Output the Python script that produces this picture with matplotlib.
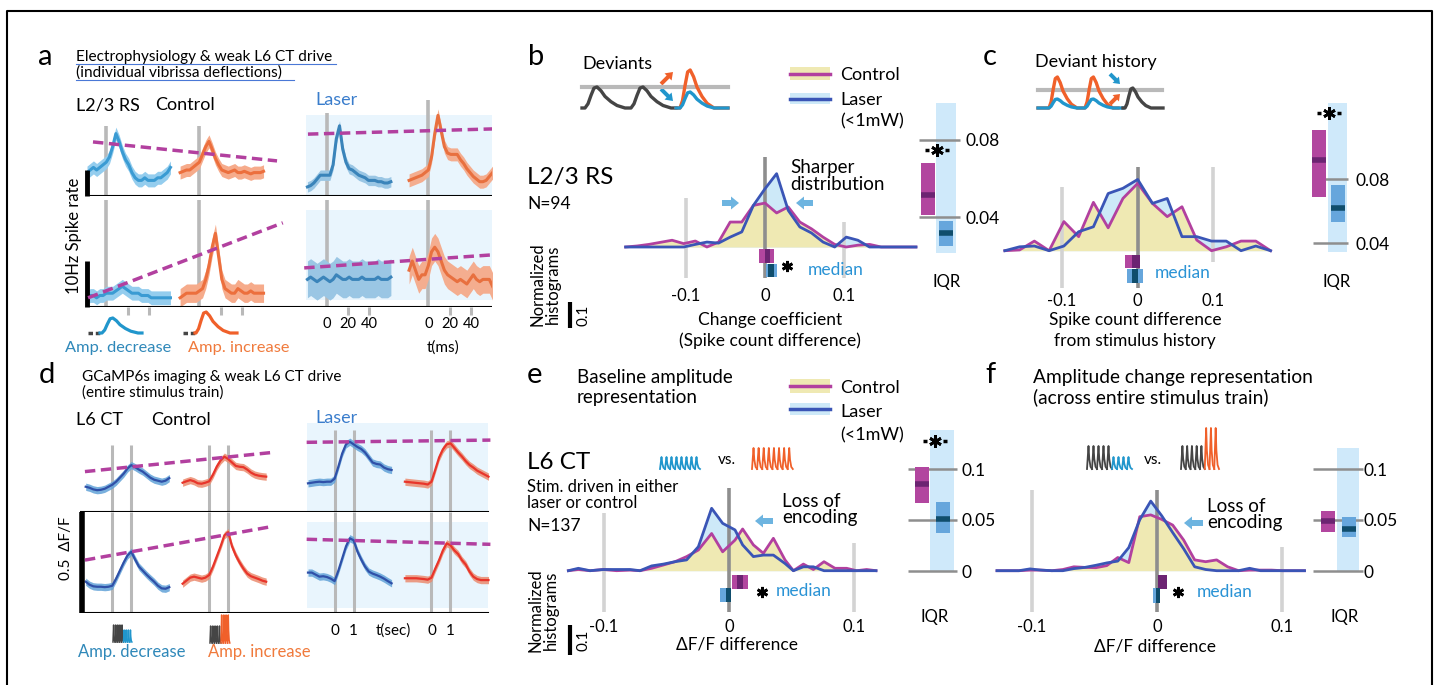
import numpy as np
import matplotlib
matplotlib.use("Agg")
import matplotlib.pyplot as plt
from matplotlib.patches import Rectangle

plt.rcParams['font.family'] = ['Lato', 'DejaVu Sans']

W, H = 1436, 685

# ---------------- panel a : PSTH (Hz), one value every 3 ms ----------------
t_a = np.arange(-18, 61, 3)
a_top_ctrl_dec = [9, 10, 11, 10, 11, 12, 13, 15, 19, 24, 21, 17, 14, 12, 9, 7, 6, 6, 7, 6, 6, 6, 7, 7, 8, 9, 11]
a_top_ctrl_inc = [9, 9.5, 10, 10, 11, 12, 13, 16, 19, 21, 18, 14.5, 12, 10, 9.5, 9, 9.5, 10, 9, 9, 9.5, 9, 8.5, 9, 9, 9, 9.5]
a_top_laser_dec = [3.5, 4, 5, 6.5, 8, 8, 8, 8, 12, 22, 27, 18, 13, 10.5, 10, 9, 8, 7.5, 7, 6, 6, 6, 5.5, 5.5, 5, 5, 5.5]
a_top_laser_inc = [6, 6.5, 7, 7.5, 8, 9, 10, 15, 24, 31, 25, 19, 16.5, 16, 16, 16, 14, 12.5, 10.5, 9, 7.5, 6.5, 5.5, 5.5, 6, 7.5, 9]
a_bot_ctrl_dec = [2, 2.5, 2.5, 2, 2.5, 2.5, 3, 3, 3, 3.5, 4, 4.5, 4, 3.5, 3, 3, 3, 2.5, 2.5, 2.5, 2, 2, 2, 2, 2, 2, 2]
a_bot_ctrl_inc = [2, 2.5, 3, 3, 3, 3, 3.5, 4, 6, 9, 13, 16, 11, 6, 4, 3.5, 3, 3, 4, 3.5, 3, 3, 3.5, 3, 3, 3, 3]
a_bot_laser_dec = [6, 6.5, 6, 5.5, 6, 6.5, 6, 5.5, 6, 7, 6.5, 6, 6, 6.5, 6, 6, 6, 6.5, 6, 6, 6, 6, 6.5, 6, 6, 6, 6.5]
a_bot_laser_inc = [8, 10, 8, 6, 7, 7, 9, 12, 13, 12, 10, 8, 7, 6.5, 6, 5.5, 6, 5.5, 5, 6, 7, 6, 5.5, 6, 6, 6, 4.5]
a_sem_top = [2.5, 2.5, 2.0, 2.5]
a_sem_bot = [1.5, 2.0, 4.0, 3.0]
# dashed trend lines (x in ms along the row, y in Hz)
a_trend_top_ctrl = ([5.6, 177.6], [20.8, 13.5])
a_trend_top_laser = ([206.5, 379], [23.8, 25.8])
a_trend_bot_ctrl = ([1, 183], [2.0, 18.3])
a_trend_bot_laser = ([203, 376.6], [8.5, 11.3])
a_ticks = [0, 20, 40]

# ---------------- panel d : dF/F, one value every 0.2 s ----------------
t_d = np.round(np.arange(-1.4, 3.01, 0.2), 1)
d_top_ctrl_dec = [.125, .12, .112, .108, .11, .115, .125, .135, .15, .17, .19, .215, .232, .222, .21, .2, .185, .17, .16, .155, .15, .155, .168]
d_top_ctrl_inc = [.145, .152, .158, .152, .142, .14, .145, .152, .185, .225, .255, .274, .262, .245, .228, .224, .222, .21, .195, .185, .18, .177, .175]
d_top_laser_dec = [.142, .145, .148, .15, .148, .15, .15, .165, .225, .29, .335, .348, .335, .322, .312, .295, .27, .245, .238, .235, .22, .212, .208]
d_top_laser_inc = [.15, .148, .146, .144, .142, .14, .136, .15, .21, .27, .31, .335, .34, .318, .295, .275, .252, .233, .22, .205, .195, .185, .175]
d_bot_ctrl_dec = [.155, .14, .132, .13, .13, .128, .13, .135, .17, .21, .25, .285, .303, .265, .23, .21, .19, .172, .155, .135, .122, .12, .128]
d_bot_ctrl_inc = [.145, .16, .175, .18, .175, .17, .175, .188, .23, .28, .33, .385, .4, .33, .285, .25, .22, .195, .182, .175, .168, .16, .155]
d_bot_laser_dec = [.2, .2, .19, .18, .182, .178, .17, .158, .21, .27, .33, .37, .36, .305, .265, .23, .205, .195, .188, .18, .17, .158, .147]
d_bot_laser_inc = [.172, .172, .172, .172, .17, .168, .165, .175, .22, .262, .31, .345, .335, .31, .292, .262, .24, .205, .18, .168, .163, .163, .163]
d_sem = 0.018
d_trend_top_ctrl = ([0.26, 10.04], [0.20, 0.294])
d_trend_top_laser = ([11.93, 21.6], [0.345, 0.356])
d_trend_bot_ctrl = ([0.26, 10.04], [0.262, 0.427])
d_trend_bot_laser = ([11.93, 21.6], [0.365, 0.34])
d_ticks = [0, 1]

# ---------------- histograms b, c, e, f ----------------
b_bins = np.arange(-12, 14) * 0.0147
b_ctrl = [0, .004, .010, .018, .026, .013, .023, 0, .019, .096, .096, .160, .169, .131, .154, .096, .070, .038, .010, 0, .007, .010, 0, 0, 0, 0]
b_laser = [0, 0, 0, 0, 0, 0, .010, .019, .015, .038, .058, .160, .224, .282, .141, .077, .054, .019, 0, .038, .026, 0, 0, 0, 0, 0]

c_bins = np.arange(-9, 10) * 0.0195
c_ctrl = [0, .003, .037, 0, .112, .054, .186, .088, .201, .259, .182, .131, .169, .041, 0, .015, .037, .037, 0]
c_laser = [0, .015, .018, 0, .018, .073, .092, .220, .240, .274, .182, .201, .054, .054, .037, .037, 0, .018, 0]

e_bins = [-0.1285, -0.1205, -0.1112, -0.1005, -0.0899, -0.0792, -0.0712, -0.0619, -0.0525, -0.0432,
          -0.0339, -0.0245, -0.0139, -0.0051, 0.0048, 0.0109, 0.0195, 0.0275, 0.0355, 0.0448,
          0.0515, 0.0595, 0.0675, 0.0760, 0.0848, 0.0941, 0.1021, 0.1101, 0.1176]
e_ctrl = [0, .004, 0, .004, 0, .002, 0, .008, .019, .030, .047, .069, .124, .063, .102, .139, .086, .058, .108, .036, 0, .022, .004, .030, .008, .008, 0, .004, 0]
e_laser = [0, .008, 0, .004, .004, .004, 0, .016, .022, .030, .036, .080, .208, .158, .136, .086, .047, .052, .052, .024, 0, .013, .013, 0, 0, 0, 0, 0, 0]

f_bins = np.linspace(-0.128, 0.118, 29)
f_ctrl = [0, 0, 0, .002, .002, 0, .004, .013, .011, .010, .017, .044, .027, .180, .186, .171, .152, .102, .036, .030, .036, .013, 0, .002, .002, .002, 0, 0, 0]
f_laser = [0, 0, 0, .006, .002, 0, 0, .007, .011, .018, .026, .032, .077, .170, .232, .183, .127, .073, .013, .004, 0, 0, 0, .008, 0, 0, 0, 0, 0]

hist_ticks = [-0.1, 0, 0.1]
hist_tick_labels = ['-0.1', '0', '0.1']

# median boxes: (ci low, dark low, dark high, ci high)
b_med = [(-0.0072, 0.0, 0.0063, 0.0114), (0.0013, 0.0042, 0.0114, 0.0148)]
c_med = [(-0.0168, -0.008, 0.003, 0.003), (-0.014, -0.008, 0.001, 0.007)]
e_med = [(0.0024, 0.0064, 0.0112, 0.0152), (-0.0072, -0.0024, 0.0016, 0.0016)]
f_med = [(0.0006, 0.0006, 0.0078, 0.0078), (-0.0034, -0.0008, 0.0024, 0.0024)]

# IQR boxes: (q low, median, q high) for control, laser
b_iqr = [(0.041, 0.0514, 0.068), (0.0249, 0.0317, 0.0379)]
c_iqr = [(0.0688, 0.0919, 0.1106), (0.0531, 0.0619, 0.0763)]
e_iqr = [(0.0667, 0.0853, 0.102), (0.0373, 0.051, 0.0676)]
f_iqr = [(0.0382, 0.049, 0.0588), (0.0333, 0.0412, 0.0529)]
iqr_ticks_bc = [0.04, 0.08]
iqr_labels_bc = ['0.04', '0.08']
iqr_ticks_ef = [0, 0.05, 0.1]
iqr_labels_ef = ['0', '0.05', '0.1']

# ---------------- icon shapes ----------------
bump_x = [0, 0.15, 0.3, 0.45, 0.6, 0.8, 1.0, 1.3, 1.6, 2.0]
bump_y = [0, 0.2, 0.6, 0.95, 1.0, 0.82, 0.55, 0.3, 0.12, 0]
pulse_x = [0, 0.3, 0.45, 0.7, 1.0]
pulse_y = [0, 1.0, 0.45, 0.1, 0]
e_train_dec = [12, 12, 12, 12, 12, 12, 12, 12]
e_train_inc = [21, 21, 21, 21, 21, 21, 21, 21]
f_train_dec = [23, 23, 23, 23, 23, 12, 12, 12, 12]
f_train_inc = [23, 23, 23, 23, 23, 41, 41, 41]
d_train_dec = [17, 17, 17, 17, 17, 12, 12, 12, 12]
d_train_inc = [17, 17, 17, 17, 17, 28, 28, 28, 28]

# ---------------- colours ----------------
MAG = "#b2409f"
BLUE = "#3a55b6"
YEL = "#efe9b3"
LBLUE = "#cde9f8"
SHADE = "#e9f5fd"
STIM = "#b9b9b9"
ZERO = "#8e8e8e"
GUIDE = "#d3d3d3"
MAGB, MAGD = "#b2469f", "#6c2472"
BLUB, BLUD = "#66a6dc", "#0f4d6c"
IQRCOL = "#cfe9fa"
TEAL = "#2f88b9"
ORTXT = "#f07a3c"
LASERTXT = "#3a7dcc"
MEDTXT = "#2a93d5"
ARROW = "#6db4e0"
ICON_BLUE = "#2196cc"
ICON_OR = "#f0602a"
ICON_DARK = "#454545"

fig = plt.figure(figsize=(W / 100, H / 100), dpi=100)


def add_ax(l, t, r, b):
    ax = fig.add_axes([l / W, 1 - b / H, (r - l) / W, (b - t) / H])
    ax.axis('off')
    return ax


def row_ax(l, t, r, b, xs, ys):
    ax = add_ax(l, t, r, b)
    ax.set_xlim(0, (r - l) / xs)
    ax.set_ylim(0, (b - t) / ys)
    return ax


# overlay in pixel units for text and schematics
ov = fig.add_axes([0, 0, 1, 1])
ov.set_xlim(0, W)
ov.set_ylim(H, 0)
ov.axis('off')
ov.set_zorder(10)
ov.patch.set_visible(False)


def T(x, y, s, size=12.5, color='black', ha='left', va='baseline', **kw):
    ov.text(x, y, s, fontsize=size, color=color, ha=ha, va=va, **kw)


def icon_line(x0, x1, base, bumps):
    xs, ys = [x0], [base]
    for s, u, h in bumps:
        xs += [s + u * v for v in bump_x]
        ys += [base - h * v for v in bump_y]
    xs.append(x1)
    ys.append(base)
    return xs, ys


def train(x0, sp, amps, n_std, color, base, lw=1.3):
    for i, a in enumerate(amps):
        xs = [x0 + sp * (i + v) for v in pulse_x]
        ys = [base - a * v for v in pulse_y]
        ov.plot(xs, ys, color=ICON_DARK if i < n_std else color, lw=lw)


def fat_arrow(x, y, dx, dy, color, w=6, hw=13, hl=8):
    ov.arrow(x, y, dx, dy, width=w, head_width=hw, head_length=hl,
             length_includes_head=True, color=color, lw=0)


def star(x, y, ms=8):
    ov.plot(x, y, marker=(6, 2, 0), ms=ms, mew=2.0, color='black')


def sig_bar(x, y):
    ov.plot([x - 12, x - 8], [y, y], color='black', lw=2.5, solid_capstyle='butt')
    ov.plot([x + 8, x + 12], [y, y], color='black', lw=2.5, solid_capstyle='butt')
    star(x, y, 9)


# frame
ov.plot([7, 7, 1432, 1432], [700, 11, 11, 700], color='black', lw=1.5, clip_on=False)

# ======================= panel a =======================
a_off = [18, 105, 224, 319]
a_lines = ["#3a9bd3", "#ec6f3d", "#3a84ba", "#e8703f"]
a_bands = ["#94cdee", "#f6ab8b", "#9ac6e4", "#f4ad8f"]
ax_at = row_ax(87, 100, 492, 196, 1.07, 2.6)
ax_ab = row_ax(87, 200, 492, 307, 1.07, 4.6)
rows = [
    (ax_at, [a_top_ctrl_dec, a_top_ctrl_inc, a_top_laser_dec, a_top_laser_inc], a_sem_top,
     (0, 31), [27, 27, 32, 37], [a_trend_top_ctrl, a_trend_top_laser]),
    (ax_ab, [a_bot_ctrl_dec, a_bot_ctrl_inc, a_bot_laser_dec, a_bot_laser_inc], a_sem_bot,
     (1.5, 21), [23.3] * 4, [a_trend_bot_ctrl, a_trend_bot_laser]),
]
for ax, traces, sems, sh, stim_top, trends in rows:
    ax.add_patch(Rectangle((205, sh[0]), 174, sh[1] - sh[0], color=SHADE, lw=0, zorder=0))
    for off, top in zip(a_off, stim_top):
        ax.plot([off, off], [0, top], color=STIM, lw=2.6, zorder=1, solid_capstyle='butt')
    for off, v, s, lc, bc in zip(a_off, traces, sems, a_lines, a_bands):
        v = np.array(v)
        ax.fill_between(off + t_a, v - s, v + s, color=bc, lw=0, zorder=2)
        ax.plot(off + t_a, v, color=lc, lw=2.2, zorder=3)
    ax.axhline(0, color='black', lw=1.5, zorder=4)
    ax.plot([0.4, 0.4], [0, 10], color='black', lw=3.5, solid_capstyle='butt', clip_on=False, zorder=5)
    for tx, ty in trends:
        ax.plot(tx, ty, color=MAG, lw=2.5, ls=(0, (3, 1.6)), zorder=6)
for i, off in enumerate(a_off):
    for tk in a_ticks[1:]:
        ax_ab.plot([off + tk] * 2, [0, -1.8], color=STIM, lw=2.2, clip_on=False, solid_capstyle='butt')
    if i >= 2:
        for tk in a_ticks:
            ax_ab.text(off + tk, -21 / 4.6, str(tk), ha='center', va='baseline', fontsize=10.5)

T(38, 65, 'a', 21)
T(76, 61, 'Electrophysiology & weak L6 CT drive', 11.1)
T(76, 77, '(individual vibrissa deflections)', 11.1)
ov.plot([76, 336], [63.5, 63.5], color="#4a78d6", lw=0.8)
ov.plot([76, 294], [79.5, 79.5], color="#4a78d6", lw=0.8)
T(76, 110, 'L2/3 RS', 13)
T(155, 110, 'Control', 13)
T(315, 105, 'Laser', 13, color=LASERTXT)
T(74, 236, '10Hz Spike rate', 12, ha='center', va='center', rotation=90)
T(443, 352, 't(ms)', 11, ha='center')
T(65, 352, 'Amp. decrease', 11.8, color=TEAL)
T(188, 352, 'Amp. increase', 11.8, color=ORTXT)
ov.plot([88, 100], [333, 333], color=ICON_DARK, lw=2.5, ls=(0, (1.3, 0.8)))
ov.plot(*icon_line(100, 142, 333, [(102, 18, 15)]), color=ICON_BLUE, lw=2.3)
ov.plot([183, 195], [333, 333], color=ICON_DARK, lw=2.5, ls=(0, (1.3, 0.8)))
ov.plot(*icon_line(195, 237, 333, [(196, 17, 21)]), color=ICON_OR, lw=2.3)

# ======================= panel d =======================
d_off = [1.7, 6.8, 13.4, 18.5]
d_lines = ["#2f50a8", "#e8352b", "#2f50a8", "#e8352b"]
d_bands = ["#62a2d8", "#eb8c70", "#62a2d8", "#eb8c70"]
ax_dt = row_ax(80, 420, 492, 512, 19, 202)
ax_db = row_ax(80, 512, 492, 613, 19, 202)
drows = [
    (ax_dt, [d_top_ctrl_dec, d_top_ctrl_inc, d_top_laser_dec, d_top_laser_inc],
     (0, 0.44), [0.33, 0.33, 0.405, 0.405], [d_trend_top_ctrl, d_trend_top_laser]),
    (ax_db, [d_bot_ctrl_dec, d_bot_ctrl_inc, d_bot_laser_dec, d_bot_laser_inc],
     (0.025, 0.45), [0.5] * 4, [d_trend_bot_ctrl, d_trend_bot_laser]),
]
for ax, traces, sh, stim_top, trends in drows:
    ax.add_patch(Rectangle((11.95, sh[0]), 9.52, sh[1] - sh[0], color=SHADE, lw=0, zorder=0))
    for off, top in zip(d_off, stim_top):
        for tk in d_ticks:
            ax.plot([off + tk] * 2, [0, top], color=STIM, lw=2.2, zorder=1, solid_capstyle='butt')
    for off, v, lc, bc in zip(d_off, traces, d_lines, d_bands):
        v = np.array(v)
        ax.fill_between(off + t_d, v - d_sem, v + d_sem, color=bc, lw=0, zorder=2, alpha=0.85)
        ax.plot(off + t_d, v, color=lc, lw=1.6, zorder=3)
    ax.axhline(0, xmin=0, xmax=408 / 412, color='black', lw=1.5, zorder=4)
    for tx, ty in trends:
        ax.plot(tx, ty, color=MAG, lw=2.5, ls=(0, (3, 1.6)), zorder=6)
ax_db.plot([0.1, 0.1], [0, 0.5], color='black', lw=4, solid_capstyle='butt', clip_on=False, zorder=5)
for off in d_off[2:]:
    for tk in d_ticks:
        ax_db.text(off + tk, -22 / 202, str(tk), ha='center', va='baseline', fontsize=11)

T(39, 383, 'd', 21)
T(82, 381, 'GCaMP6s imaging & weak L6 CT drive', 11)
T(82, 397, '(entire stimulus train)', 11)
T(76, 425, 'L6 CT', 13)
T(151, 425, 'Control', 13)
T(315, 423, 'Laser', 13, color=LASERTXT)
T(66, 548, '0.5  ΔF/F', 11, ha='center', va='center', rotation=90)
T(393, 635, 't(sec)', 11, ha='center')
T(78, 657, 'Amp. decrease', 12, color=TEAL)
T(208, 657, 'Amp. increase', 12, color=ORTXT)
train(113, 2.1, d_train_dec, 5, ICON_BLUE, 642, lw=1.1)
train(210, 2.2, d_train_inc, 5, ICON_OR, 643, lw=1.1)


# ======================= histogram panels =======================
def hist_panel(box, x0, xs, y0, ys, bins, ctrl, laser, vl, meds, med_rows, tick_y):
    l, t, r, b = box
    ax = add_ax(l, t, r, b)
    ax.set_xlim((l - x0) / xs, (r - x0) / xs)
    ax.set_ylim((y0 - b) / ys, (y0 - t) / ys)
    X = lambda p: (p - x0) / xs
    Y = lambda p: (y0 - p) / ys
    for xv, (ptop, pbot) in zip(hist_ticks, vl):
        ax.plot([xv, xv], [Y(pbot), Y(ptop)], color=ZERO if xv == 0 else GUIDE,
                lw=2.6, zorder=2, solid_capstyle='butt', clip_on=False)
    ax.fill_between(bins, 0, laser, color=LBLUE, lw=0, zorder=1)
    ax.fill_between(bins, 0, ctrl, color=YEL, lw=0, zorder=1)
    ax.plot(bins, ctrl, color=MAG, lw=2, zorder=3)
    ax.plot(bins, laser, color=BLUE, lw=2, zorder=3)
    for (lo, dlo, dhi, hi), (pt, pb), (lc, dc) in zip(meds, med_rows, [(MAGB, MAGD), (BLUB, BLUD)]):
        ax.add_patch(Rectangle((lo, Y(pb)), hi - lo, Y(pt) - Y(pb), color=lc, lw=0, zorder=4, clip_on=False))
        ax.add_patch(Rectangle((dlo, Y(pb)), dhi - dlo, Y(pt) - Y(pb), color=dc, lw=0, zorder=5, clip_on=False))
    for xv, lab in zip(hist_ticks, hist_tick_labels):
        ax.text(xv, Y(tick_y), lab, ha='center', va='baseline', fontsize=12)
    return ax, X, Y


def iqr_panel(box, cx, sp, ref_px, ref_val, scale, col, gl, lab_px, ticks, labels, boxes):
    l, t, r, b = box
    ax = add_ax(l, t, r, b)
    ax.set_xlim((l - cx) / sp, (r - cx) / sp)
    ax.set_ylim(ref_val - (b - ref_px) / scale, ref_val + (ref_px - t) / scale)
    X = lambda p: (p - cx) / sp
    Y = lambda p: ref_val + (ref_px - p) / scale
    ax.add_patch(Rectangle((X(col[0]), Y(col[3])), X(col[1]) - X(col[0]), Y(col[2]) - Y(col[3]),
                           color=IQRCOL, lw=0, zorder=0))
    ax.hlines(ticks, X(gl[0]), X(gl[1]), color="#8e8e8e", lw=1.8, zorder=1)
    bw = 14 / sp
    for i, (q, lc, dc) in enumerate(zip(boxes, [MAGB, BLUB], [MAGD, BLUD])):
        ax.bar(i, q[2] - q[0], bottom=q[0], width=bw, color=lc, lw=0, zorder=2)
        ax.plot([i - bw / 2, i + bw / 2], [q[1], q[1]], color=dc, lw=4, solid_capstyle='butt', zorder=3)
    for tk, lb in zip(ticks, labels):
        ax.text(X(lab_px), tk, lb, ha='left', va='center_baseline', fontsize=12.5)
    return ax


# ---- b
axb, Xb, Yb = hist_panel((610, 150, 920, 290), 765, 790, 247, 260, b_bins, b_ctrl, b_laser,
                         [(198, 278), (157, 278), (222, 278)], b_med, [(249, 263), (264, 277)], 301)
axb.plot([Xb(570)] * 2, [Yb(328), Yb(328) + 0.1], color='black', lw=3, clip_on=False, solid_capstyle='butt')
iqr_panel((915, 100, 962, 256), 928, 17.5, 140, 0.08, 1925, (936, 956, 103, 253), (919, 960), 966,
          iqr_ticks_bc, iqr_labels_bc, b_iqr)
T(528, 65, 'b', 21)
T(582, 69, 'Deviants', 13)
ov.plot([582, 728], [87, 87], color=STIM, lw=3)
ov.plot(*icon_line(582, 676, 108, [(585, 20, 21), (631, 20, 21)]), color=ICON_DARK, lw=2.4)
ov.plot(*icon_line(676, 728, 108, [(680, 17, 38)]), color=ICON_OR, lw=2.4)
ov.plot(*icon_line(676, 728, 108, [(680, 17, 16)]), color=ICON_BLUE, lw=2.4)
fat_arrow(661, 84, 12, -12, ICON_OR, w=4, hw=10, hl=7)
fat_arrow(661, 89, 12, 12, ICON_BLUE, w=4, hw=10, hl=7)
for y_top, h, fc, lc in [(67, 13, YEL, MAG), (93, 11, LBLUE, BLUE)]:
    ov.add_patch(Rectangle((790, y_top), 40, h, color=fc, lw=0))
    ov.plot([790, 830], [y_top + h / 2] * 2, color=lc, lw=2.5)
T(840, 80, 'Control', 13)
T(840, 105, 'Laser', 13)
T(840, 126, '(<1mW)', 13)
T(527, 184, 'L2/3 RS', 17.5)
T(527, 209, 'N=94', 12.5)
T(790, 173, 'Sharper', 13.5)
T(790, 190, 'distribution', 13.5)
fat_arrow(722, 203, 17, 0, ARROW)
fat_arrow(813, 203, -17, 0, ARROW)
T(770, 325, 'Change coefficient', 12.5, ha='center')
T(770, 346, '(Spike count difference)', 12.5, ha='center')
T(808, 275, 'median', 12.5, color=MEDTXT)
star(787, 266)
sig_bar(937, 150)
T(947, 287, 'IQR', 12, ha='center')
T(545, 284, 'Normalized\nhistograms', 12, ha='center', va='center', rotation=90, linespacing=0.95)
T(583, 315, '0.1', 11, ha='center', va='center', rotation=90)

# ---- c
hist_panel((995, 150, 1280, 295), 1137.7, 757, 250.7, 260, c_bins, c_ctrl, c_laser,
           [(187, 288), (167, 288), (167, 262)], c_med, [(255, 268), (269, 283)], 306)
iqr_panel((1305, 100, 1352, 256), 1319, 19, 179, 0.08, 1600, (1328, 1347, 103, 252), (1313, 1348), 1355,
          iqr_ticks_bc, iqr_labels_bc, c_iqr)
T(983, 65, 'c', 21)
T(1035, 67, 'Deviant history', 13)
ov.plot([1038, 1162], [90, 90], color=STIM, lw=3)
ov.plot(*icon_line(1038, 1118, 108, [(1049, 14, 31), (1085, 14, 31)]), color=ICON_OR, lw=2.4)
ov.plot(*icon_line(1038, 1123, 108, [(1049, 14, 9), (1085, 14, 9)]), color=ICON_BLUE, lw=2.4)
ov.plot(*icon_line(1123, 1163, 108, [(1125, 13, 20)]), color=ICON_DARK, lw=2.4)
fat_arrow(1110, 74, 10, 10, ICON_BLUE, w=4, hw=9, hl=6)
fat_arrow(1110, 104, 10, -10, ICON_OR, w=4, hw=9, hl=6)
T(1135, 325, 'Spike count difference', 12.5, ha='center')
T(1135, 346, 'from stimulus history', 12.5, ha='center')
T(1155, 278, 'median', 12.5, color=MEDTXT)
sig_bar(1329, 113)
T(1337, 287, 'IQR', 12, ha='center')

# ---- e
axe, Xe, Ye = hist_panel((555, 480, 885, 615), 729, 1250, 570.7, 300, e_bins, e_ctrl, e_laser,
                         [(513, 612), (488, 612), (543, 612)], e_med, [(575, 589), (588, 602)], 632)
axe.plot([Xe(570)] * 2, [Ye(655), Ye(655) + 0.1], color='black', lw=3, clip_on=False, solid_capstyle='butt')
iqr_panel((905, 425, 960, 580), 922, 20.5, 571, 0.0, 1020, (930, 954, 430, 571), (908, 957), 962,
          iqr_ticks_ef, iqr_labels_ef, e_iqr)
T(527, 383, 'e', 21)
T(577, 383, 'Baseline amplitude', 13.5)
T(577, 403, 'representation', 13.5)
for y_top, h, fc, lc in [(379, 14, YEL, MAG), (403, 12, LBLUE, BLUE)]:
    ov.add_patch(Rectangle((790, y_top), 40, h, color=fc, lw=0))
    ov.plot([790, 830], [y_top + h / 2] * 2, color=lc, lw=2.5)
T(840, 393, 'Control', 13)
T(840, 417, 'Laser', 13)
T(840, 440, '(<1mW)', 13)
T(527, 469, 'L6 CT', 17.5)
T(527, 492, 'Stim. driven in either', 12)
T(527, 508, 'laser or control', 12)
T(527, 531, 'N=137', 12.5)
train(660, 5, e_train_dec, 0, ICON_BLUE, 469)
T(727, 464, 'vs.', 11, ha='center')
train(752, 5.1, e_train_inc, 0, ICON_OR, 469)
fat_arrow(773, 521, -18, 0, ARROW)
T(782, 507, 'Loss of', 13.5)
T(782, 523, 'encoding', 13.5)
T(737, 650, 'ΔF/F difference', 12.5, ha='center')
T(776, 596, 'median', 12.5, color=MEDTXT)
star(762, 592)
sig_bar(935, 441)
T(935, 622, 'IQR', 12, ha='center')
T(543, 610, 'Normalized\nhistograms', 12, ha='center', va='center', rotation=90, linespacing=0.95)
T(583, 640, '0.1', 11, ha='center', va='center', rotation=90)

# ---- f
hist_panel((985, 480, 1315, 615), 1157, 1250, 570.7, 300, f_bins, f_ctrl, f_laser,
           [(490, 612), (490, 612), (547, 612)], f_med, [(575, 589), (588, 603)], 632)
iqr_panel((1310, 425, 1365, 580), 1328, 20.5, 571, 0.0, 1020, (1337, 1359, 448, 571), (1313, 1363), 1363,
          iqr_ticks_ef, iqr_labels_ef, f_iqr)
T(985, 383, 'f', 21)
T(1033, 383, 'Amplitude change representation', 13.8)
T(1033, 403, '(across entire stimulus train)', 13.8)
train(1087, 5, f_train_dec, 5, ICON_BLUE, 469)
T(1153, 464, 'vs.', 11, ha='center')
train(1181, 4.75, f_train_inc, 5, ICON_OR, 469)
fat_arrow(1203, 523, -19, 0, ARROW)
T(1207, 512, 'Loss of', 13.5)
T(1207, 528, 'encoding', 13.5)
T(1155, 651, 'ΔF/F difference', 12.5, ha='center')
T(1197, 597, 'median', 12.5, color=MEDTXT)
star(1178, 592)
T(1345, 622, 'IQR', 12, ha='center')

fig.savefig("out.png", dpi=100)
